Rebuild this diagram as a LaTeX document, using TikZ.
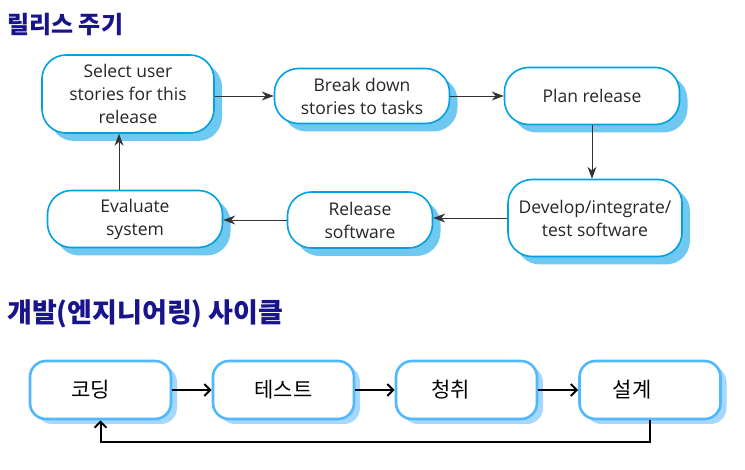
\documentclass[tikz,border=0pt]{standalone}
\usepackage{fontspec}
\setmainfont{Open Sans}
\newfontfamily\korfont{Noto Sans CJK KR}
\usetikzlibrary{positioning,shadows,arrows.meta}
\definecolor{titleblue}{RGB}{24,20,140}
\definecolor{relline}{RGB}{0,160,226}
\definecolor{relshade}{RGB}{110,200,240}
\definecolor{cycline}{RGB}{80,184,255}
\definecolor{cycshade}{RGB}{165,215,255}
\newcommand{\stage}[1]{{\korfont #1}}

\begin{document}
\begin{tikzpicture}[
 x=1pt,
 y=-1pt,
 >={Stealth[length=12pt,width=9pt,inset=4pt]},
 title/.style={
  anchor=base west,
  inner sep=0pt,
  text=titleblue,
  font=\korfont\bfseries\fontsize{27}{31}\selectfont,
 },
 relbox/.style={
  draw=relline,
  line width=1.6pt,
  fill=white,
  rounded corners=24pt,
  align=center,
  inner sep=2pt,
  text=black!85,
  font=\fontsize{17.5}{23}\selectfont,
  drop shadow={shadow xshift=8pt,shadow yshift=-8pt,fill=relshade,opacity=1},
 },
 cycbox/.style={
  draw=cycline,
  line width=2.6pt,
  fill=white,
  rounded corners=16pt,
  minimum width=141pt,
  minimum height=58pt,
  text=black,
  font=\fontsize{21}{25}\selectfont,
  drop shadow={shadow xshift=6pt,shadow yshift=-5pt,fill=cycshade,opacity=1},
 },
 flow/.style={->,line width=0.9pt,draw=black!80},
 cycarrow/.style={line width=2pt,-{Straight Barb[length=6pt,width=12pt]}},
]
\useasboundingbox (0,0) rectangle (745,470);

\node at (7,34) [title,font=\korfont\bfseries\fontsize{24}{29}\selectfont] (reltitle) {릴리스 주기};

\node at (128,94) [relbox,minimum width=172pt,minimum height=78pt] (select) {Select user\\stories for this\\release};
\node at (362,96) [relbox,minimum width=175pt,minimum height=55pt] (breakdown) {Break down\\stories to tasks};
\node at (592,96) [relbox,minimum width=175pt,minimum height=57pt] (plan) {Plan release};
\node at (595,218) [relbox,minimum width=174pt,minimum height=77pt] (develop) {Develop/integrate/\\test software};
\node at (360,220) [relbox,minimum width=145pt,minimum height=56pt] (release) {Release\\software};
\node at (135,219) [relbox,minimum width=175pt,minimum height=57pt] (evaluate) {Evaluate\\system};

\draw[flow] (select.east |- breakdown.west) -- (breakdown.west);
\draw[flow] (breakdown.east) -- (plan.west);
\draw[flow] (plan.south) -- (plan.south |- develop.north);
\draw[flow] (develop.west) -- (release.east |- develop.west);
\draw[flow] (release.west) -- (evaluate.east |- release.west);
\draw[flow] ([xshift=-16pt]evaluate.north) -- ([xshift=-9pt]select.south);

\node at (7,323) [title] (cyctitle) {개발(엔지니어링) 사이클};

\node at (100.5,390) [cycbox] (coding) {\stage{코딩}\kern20pt};
\node at (283.5,390) [cycbox] (testing) {\stage{테스트}};
\node at (466.5,390) [cycbox] (hearing) {\stage{청취}\kern32pt};
\node at (650,390) [cycbox] (design) {\stage{설계}\kern36pt};

\draw[cycarrow] (coding.east) -- (testing.west);
\draw[cycarrow] (testing.east) -- (hearing.west);
\draw[cycarrow] (hearing.east) -- (design.west);
\draw[cycarrow] (design.south) -- ++(0,22) -| (coding.south);

\end{tikzpicture}
\end{document}
